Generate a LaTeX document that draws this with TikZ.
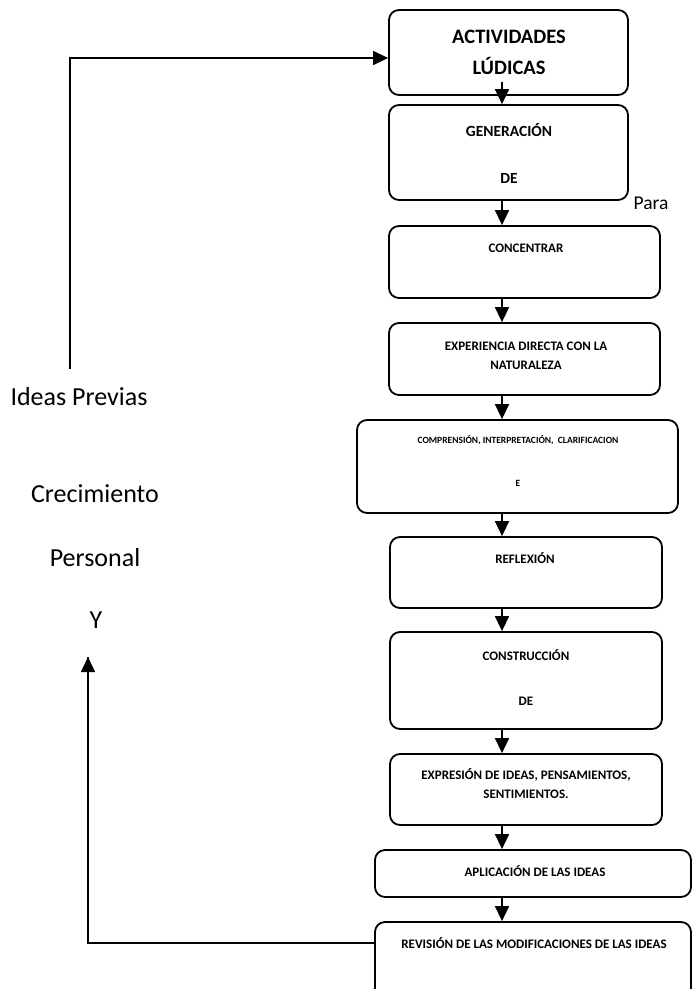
\documentclass[tikz,border=0pt]{standalone}
\usepackage{fontspec}
\setmainfont{Carlito}
\usetikzlibrary{arrows.meta,calc}

\tikzset{
  box/.style={draw=black, line width=1.8pt, rounded corners=10pt, fill=white, inner sep=0pt},
  lbl/.style={inner sep=0pt, align=center, font=\bfseries\fontsize{13}{19}\selectfont},
  side/.style={inner sep=0pt, font=\fontsize{26}{30}\selectfont},
  flow/.style={line width=1.6pt, -{Triangle[width=14pt,length=15pt]}},
  back/.style={line width=1.6pt},
}

\begin{document}
\begin{tikzpicture}[x=1pt,y=-1pt]
  \clip (0,0) rectangle (692,989);
  \fill[white] (0,0) rectangle (692,989);

  % boxes of the sequence
  \node[box, minimum width=239pt, minimum height=85pt] (b1) at (508.5,52.5) {};
  \node[box, minimum width=239pt, minimum height=95pt] (b2) at (508.5,152.5) {};
  \node[box, minimum width=271pt, minimum height=72pt] (b3) at (524.5,262) {};
  \node[box, minimum width=271pt, minimum height=72pt] (b4) at (524.5,359) {};
  \node[box, minimum width=321pt, minimum height=93pt] (b5) at (517.5,466.5) {};
  \node[box, minimum width=272pt, minimum height=71pt] (b6) at (526,572.5) {};
  \node[box, minimum width=272pt, minimum height=97pt] (b7) at (526,680.5) {};
  \node[box, minimum width=272pt, minimum height=71pt] (b8) at (526,789.5) {};
  \node[box, minimum width=316pt, minimum height=47pt] (b9) at (533,873.5) {};
  \node[box, minimum width=316pt, minimum height=84pt] (b10) at (533,964) {};

  % box texts
  \node[lbl, font=\bfseries\fontsize{20.5}{31}\selectfont] (t1) at (509,52.5) {ACTIVIDADES\\LÚDICAS};
  \node[lbl, font=\bfseries\fontsize{15.5}{18}\selectfont] (t2a) at (509,130) {GENERACIÓN};
  \node[lbl, font=\bfseries\fontsize{15.5}{18}\selectfont] (t2b) at (509,178) {DE};
  \node[lbl] (t3) at (526,248) {CONCENTRAR};
  \node[lbl] (t4) at (526,355.5) {EXPERIENCIA DIRECTA CON LA\\NATURALEZA};
  \node[lbl, font=\bfseries\fontsize{9.5}{12}\selectfont] (t5a) at (518,440) {COMPRENSIÓN, INTERPRETACIÓN,\ \ CLARIFICACION};
  \node[lbl, font=\bfseries\fontsize{9.5}{12}\selectfont] (t5b) at (518,483) {E};
  \node[lbl] (t6) at (525,558) {REFLEXIÓN};
  \node[lbl] (t7a) at (526,655) {CONSTRUCCIÓN};
  \node[lbl] (t7b) at (526,701) {DE};
  \node[lbl] (t8) at (526,784) {EXPRESIÓN DE IDEAS, PENSAMIENTOS,\\SENTIMIENTOS.};
  \node[lbl] (t9) at (535,871) {APLICACIÓN DE LAS IDEAS};
  \node[lbl] (t10) at (534,943) {REVISIÓN DE LAS MODIFICACIONES DE LAS IDEAS};

  % free text beside the boxes
  \node[inner sep=0pt, font=\fontsize{19.5}{22}\selectfont] (para) at (651,203) {Para};
  \node[side] (ideas) at (79,397) {Ideas Previas};
  \node[side] (crec) at (95,494) {Crecimiento};
  \node[side] (pers) at (95,558) {Personal};
  \node[side] (yy) at (96,620) {Y};

  % arrows down the sequence
  \coordinate (spine) at (502,0);
  \coordinate (s1) at (502,82);
  \draw[flow] (s1) -- (b2.north -| spine);
  \draw[flow] (b2.south -| spine) -- (b3.north -| spine);
  \draw[flow] (b3.south -| spine) -- (b4.north -| spine);
  \draw[flow] (b4.south -| spine) -- (b5.north -| spine);
  \draw[flow] (b5.south -| spine) -- (b6.north -| spine);
  \draw[flow] (b6.south -| spine) -- (b7.north -| spine);
  \draw[flow] (b7.south -| spine) -- (b8.north -| spine);
  \draw[flow] (b8.south -| spine) -- (b9.north -| spine);
  \draw[flow] (b9.south -| spine) -- (b10.north -| spine);

  % feedback loops on the left
  \coordinate (ideasTop) at (70,369);
  \coordinate (upTip) at (88,657);
  \draw[flow] (ideasTop) |- ([yshift=-5.5pt]b1.west);
  \draw[back] (t10 -| b10.west) -| (upTip);
  \draw[flow] ([yshift=2pt]upTip |- b10.north) -- (upTip);
\end{tikzpicture}
\end{document}
